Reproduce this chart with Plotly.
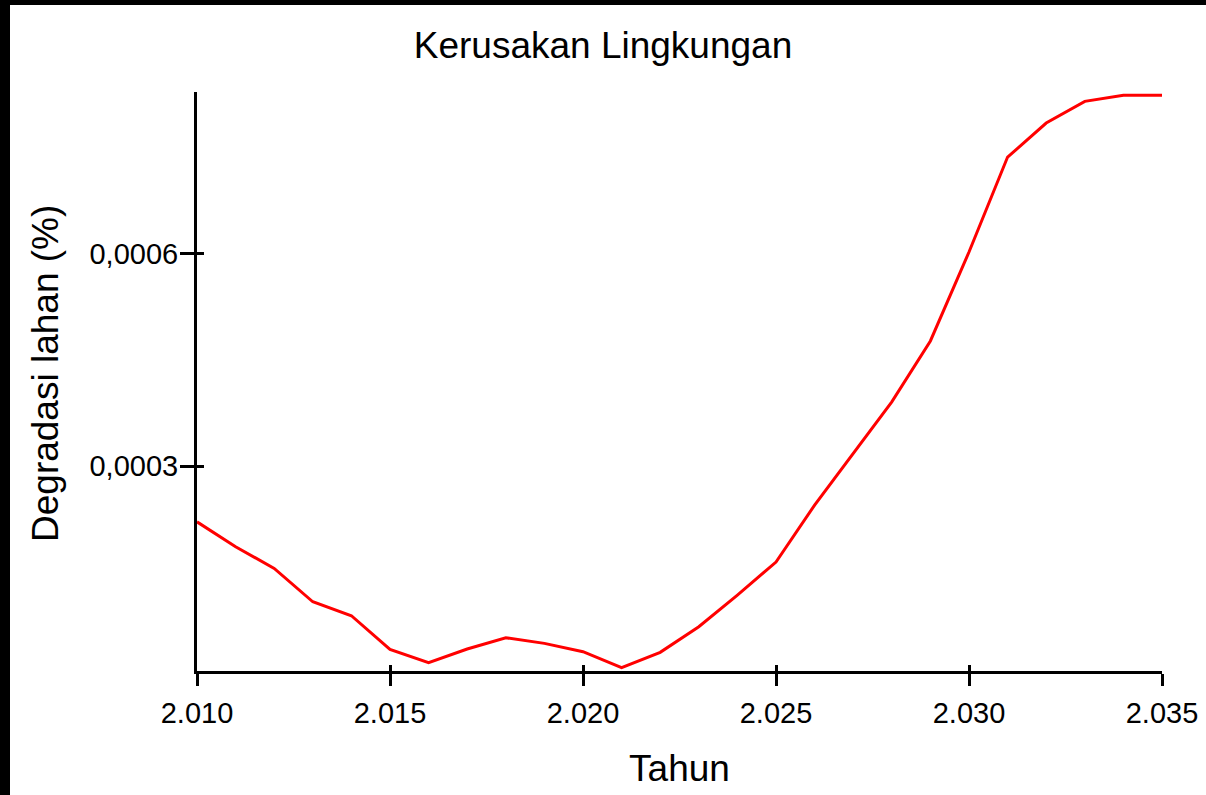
import plotly.graph_objects as go

years = list(range(2010, 2036))
degradasi = [
    0.0002214, 0.0001862, 0.0001557, 0.0001086, 0.0000889, 0.0000415,
    0.0000226, 0.0000419, 0.0000578, 0.0000499, 0.0000381, 0.0000155,
    0.0000372, 0.0000733, 0.0001181, 0.0001646, 0.0002450, 0.0003183,
    0.0003907, 0.0004767, 0.0006022, 0.0007362, 0.0007842, 0.0008148,
    0.0008233, 0.0008233,
]
x_ticks = [2010, 2015, 2020, 2025, 2030, 2035]
y_ticks = [0.0003, 0.0006]

title_text = "Kerusakan Lingkungan"
x_title = "Tahun"
y_title = "Degradasi lahan (%)"

W, H = 1206, 795
L, R, T, B = 197, 44, 92, 124
xr = [2010, 2035]
yr = [0.0000109, 0.000828]
FONT = "Liberation Sans, Arial, sans-serif"

fig = go.Figure()
fig.add_trace(go.Scatter(x=years, y=degradasi, mode="lines",
                         line=dict(color="#ff0000", width=3),
                         showlegend=False, hoverinfo="skip"))
# invisible copy on overlay axes (inner half of crossing ticks)
fig.add_trace(go.Scatter(x=years, y=degradasi, mode="lines", xaxis="x2", yaxis="y2",
                         line=dict(color="rgba(0,0,0,0)", width=0),
                         showlegend=False, hoverinfo="skip"))

axis_common = dict(showgrid=False, zeroline=False, tickcolor="black", tickwidth=3,
                   automargin=False)

pw, ph = W - L - R, H - T - B

fig.update_layout(
    width=W, height=H,
    margin=dict(l=L, r=R, t=T, b=B, pad=0, autoexpand=False),
    paper_bgcolor="white", plot_bgcolor="white",
    separators=",.",
    font=dict(family=FONT, color="black", size=29),
    title=dict(text=title_text, x=0.5, xref="container", xanchor="center",
               y=1 - 45 / H, yref="container", yanchor="middle",
               font=dict(family=FONT, size=37, color="black")),
    xaxis=dict(range=xr, tickvals=x_ticks, tickformat=",d",
               ticks="outside", ticklen=12, showline=True, linecolor="black",
               linewidth=3, tickfont=dict(size=29), ticklabelstandoff=2,
               title=dict(text=x_title, font=dict(size=37), standoff=28),
               **axis_common),
    yaxis=dict(range=yr, tickvals=y_ticks, tickformat=".4f",
               ticks="outside", ticklen=14, showline=True, linecolor="black",
               linewidth=3, tickfont=dict(size=29), ticklabelstandoff=-4,
               **axis_common),
    xaxis2=dict(range=xr, tickvals=x_ticks, overlaying="x", anchor="y2",
                ticks="inside", ticklen=6, showticklabels=False, showline=False,
                **axis_common),
    yaxis2=dict(range=yr, tickvals=y_ticks, overlaying="y", anchor="x2",
                ticks="inside", ticklen=7, showticklabels=False, showline=False,
                **axis_common),
    annotations=[dict(text=y_title, textangle=-90, showarrow=False,
                      xref="paper", yref="paper",
                      x=(45 - L) / pw, y=1 - (374 - T) / ph,
                      xanchor="center", yanchor="middle",
                      font=dict(family=FONT, size=37, color="black"))],
)

# black frame strips at top and left edges of the picture
fig.add_shape(type="rect", xref="paper", yref="paper",
              x0=-L / pw, x1=(W - L) / pw, y0=1 + (T - 5) / ph, y1=1 + T / ph,
              fillcolor="black", line=dict(width=0), layer="above")
fig.add_shape(type="rect", xref="paper", yref="paper",
              x0=-L / pw, x1=(10 - L) / pw, y0=-B / ph, y1=1 + T / ph,
              fillcolor="black", line=dict(width=0), layer="above")

fig.write_html("out.html", config={"displayModeBar": False},
               post_script="document.body.style.margin='0';document.body.style.overflow='hidden';")
